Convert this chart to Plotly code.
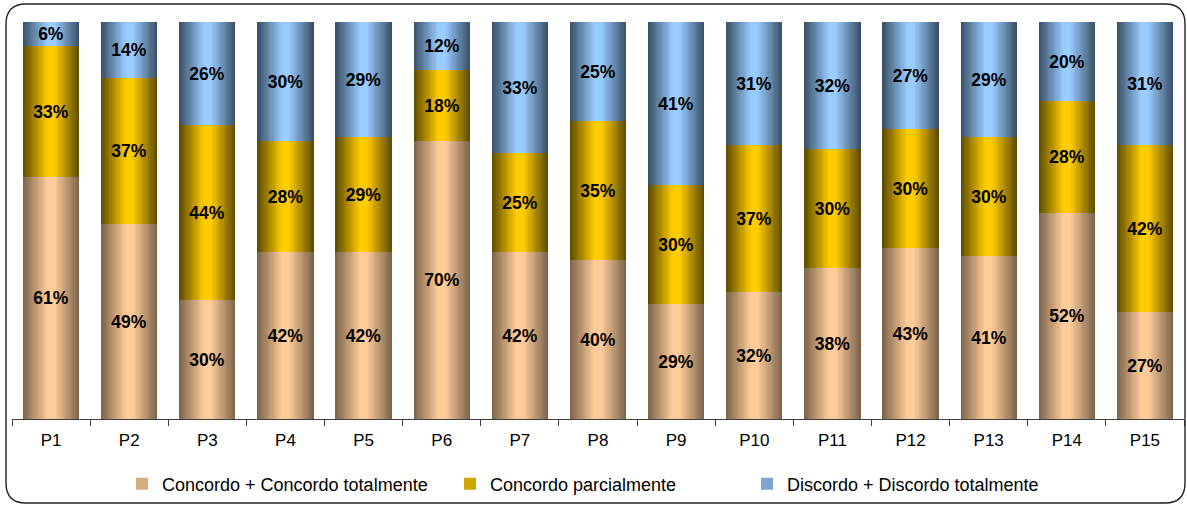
import plotly.graph_objects as go

# Survey items and response shares (%)
categories = [f"P{i}" for i in range(1, 16)]
concordo = [61, 49, 30, 42, 42, 70, 42, 40, 29, 32, 38, 43, 41, 52, 27]
parcial = [33, 37, 44, 28, 29, 18, 25, 35, 30, 37, 30, 30, 30, 28, 42]
discordo = [6, 14, 26, 30, 29, 12, 33, 25, 41, 31, 32, 27, 29, 20, 31]

series_names = [
    "Concordo + Concordo totalmente",
    "Concordo parcialmente",
    "Discordo + Discordo totalmente",
]
series_values = [concordo, parcial, discordo]

# (light centre colour, dark edge colour) for the cylinder shading
palettes = [
    ((255, 204, 153), (122, 98, 74)),
    ((255, 204, 0), (92, 74, 0)),
    ((153, 204, 255), (56, 78, 100)),
]

BAR_WIDTH = 0.72
STRIPS = 24


def mix(light, dark, k):
    return "rgb({},{},{})".format(*[round(l + (d - l) * k) for l, d in zip(light, dark)])


def shade(t):
    # t: 0 at bar centre, 1 at bar edge -> amount of dark colour
    k = (t - 0.12) / 0.88
    return max(0.0, min(1.0, k))


W, H = 1187, 506
L, R, T, B = 12, 3, 22, 87
pw, ph = W - L - R, H - T - B


def px(x):
    return (x - L) / pw


def py(y):
    return (H - B - y) / ph


fig = go.Figure()

# Legend entries, one legend box each
legend_ids = ["legend", "legend2", "legend3"]
for name, (light, dark), lid in zip(series_names, palettes, legend_ids):
    fig.add_trace(go.Bar(
        x=[None], y=[None], name=name, legend=lid,
        marker=dict(color=mix(light, dark, 0.3), line=dict(width=0)),
        showlegend=True,
    ))

# Stacked segments, shaded with nested overlay bars
bases = []
running = [0] * len(categories)
for vals in series_values:
    bases.append(list(running))
    running = [r + v for r, v in zip(running, vals)]

for vals, base, (light, dark) in zip(series_values, bases, palettes):
    for s in range(STRIPS):
        w = BAR_WIDTH * (1 - s / STRIPS)
        t = 1 - (s + 0.5) / STRIPS
        fig.add_trace(go.Bar(
            x=categories, y=vals, base=base, width=w,
            marker=dict(color=mix(light, dark, shade(t)), line=dict(width=0)),
            showlegend=False, hoverinfo="skip",
        ))

# Percentage labels
for vals, base in zip(series_values, bases):
    fig.add_trace(go.Bar(
        x=categories, y=vals, base=base, width=BAR_WIDTH,
        marker=dict(color="rgba(0,0,0,0)", line=dict(width=0)),
        text=[f"{v}%" for v in vals],
        textposition="inside", insidetextanchor="middle", textangle=0,
        constraintext="none",
        textfont=dict(family="Liberation Sans, Arial", size=17.5, color="black", weight="bold"),
        showlegend=False, hoverinfo="skip",
    ))

# Rounded frame around the whole chart
x0, x1, y0, y1, rad = 6, 1185, 4, 503, 20
path = (
    f"M {px(x0 + rad)},{py(y0)} L {px(x1 - rad)},{py(y0)} "
    f"Q {px(x1)},{py(y0)} {px(x1)},{py(y0 + rad)} "
    f"L {px(x1)},{py(y1 - rad)} Q {px(x1)},{py(y1)} {px(x1 - rad)},{py(y1)} "
    f"L {px(x0 + rad)},{py(y1)} Q {px(x0)},{py(y1)} {px(x0)},{py(y1 - rad)} "
    f"L {px(x0)},{py(y0 + rad)} Q {px(x0)},{py(y0)} {px(x0 + rad)},{py(y0)} Z"
)

legend_style = dict(
    orientation="h", xanchor="left", yanchor="middle", y=py(484),
    font=dict(size=18, color="black"), itemwidth=30,
    bgcolor="rgba(0,0,0,0)", borderwidth=0,
)
legend_left = [122, 450, 747]

fig.update_layout(
    width=W, height=H,
    margin=dict(l=L, r=R, t=T, b=B),
    barmode="overlay",
    bargap=0,
    plot_bgcolor="white",
    paper_bgcolor="white",
    font=dict(family="Liberation Sans, Arial", color="black"),
    showlegend=True,
    legend=dict(legend_style, x=px(legend_left[0])),
    legend2=dict(legend_style, x=px(legend_left[1])),
    legend3=dict(legend_style, x=px(legend_left[2])),
    xaxis=dict(
        type="category", categoryorder="array", categoryarray=categories,
        showline=True, linecolor="#404040", linewidth=1,
        ticks="outside", tickson="boundaries", ticklen=6, tickcolor="#404040",
        tickfont=dict(size=17, color="black"), ticklabelstandoff=6,
        showgrid=False, zeroline=False,
    ),
    yaxis=dict(range=[0, 100], visible=False, showgrid=False, zeroline=False),
    shapes=[dict(type="path", xref="paper", yref="paper", path=path,
                 line=dict(color="#222222", width=1.4), layer="above")],
)

fig.write_html("out.html")
